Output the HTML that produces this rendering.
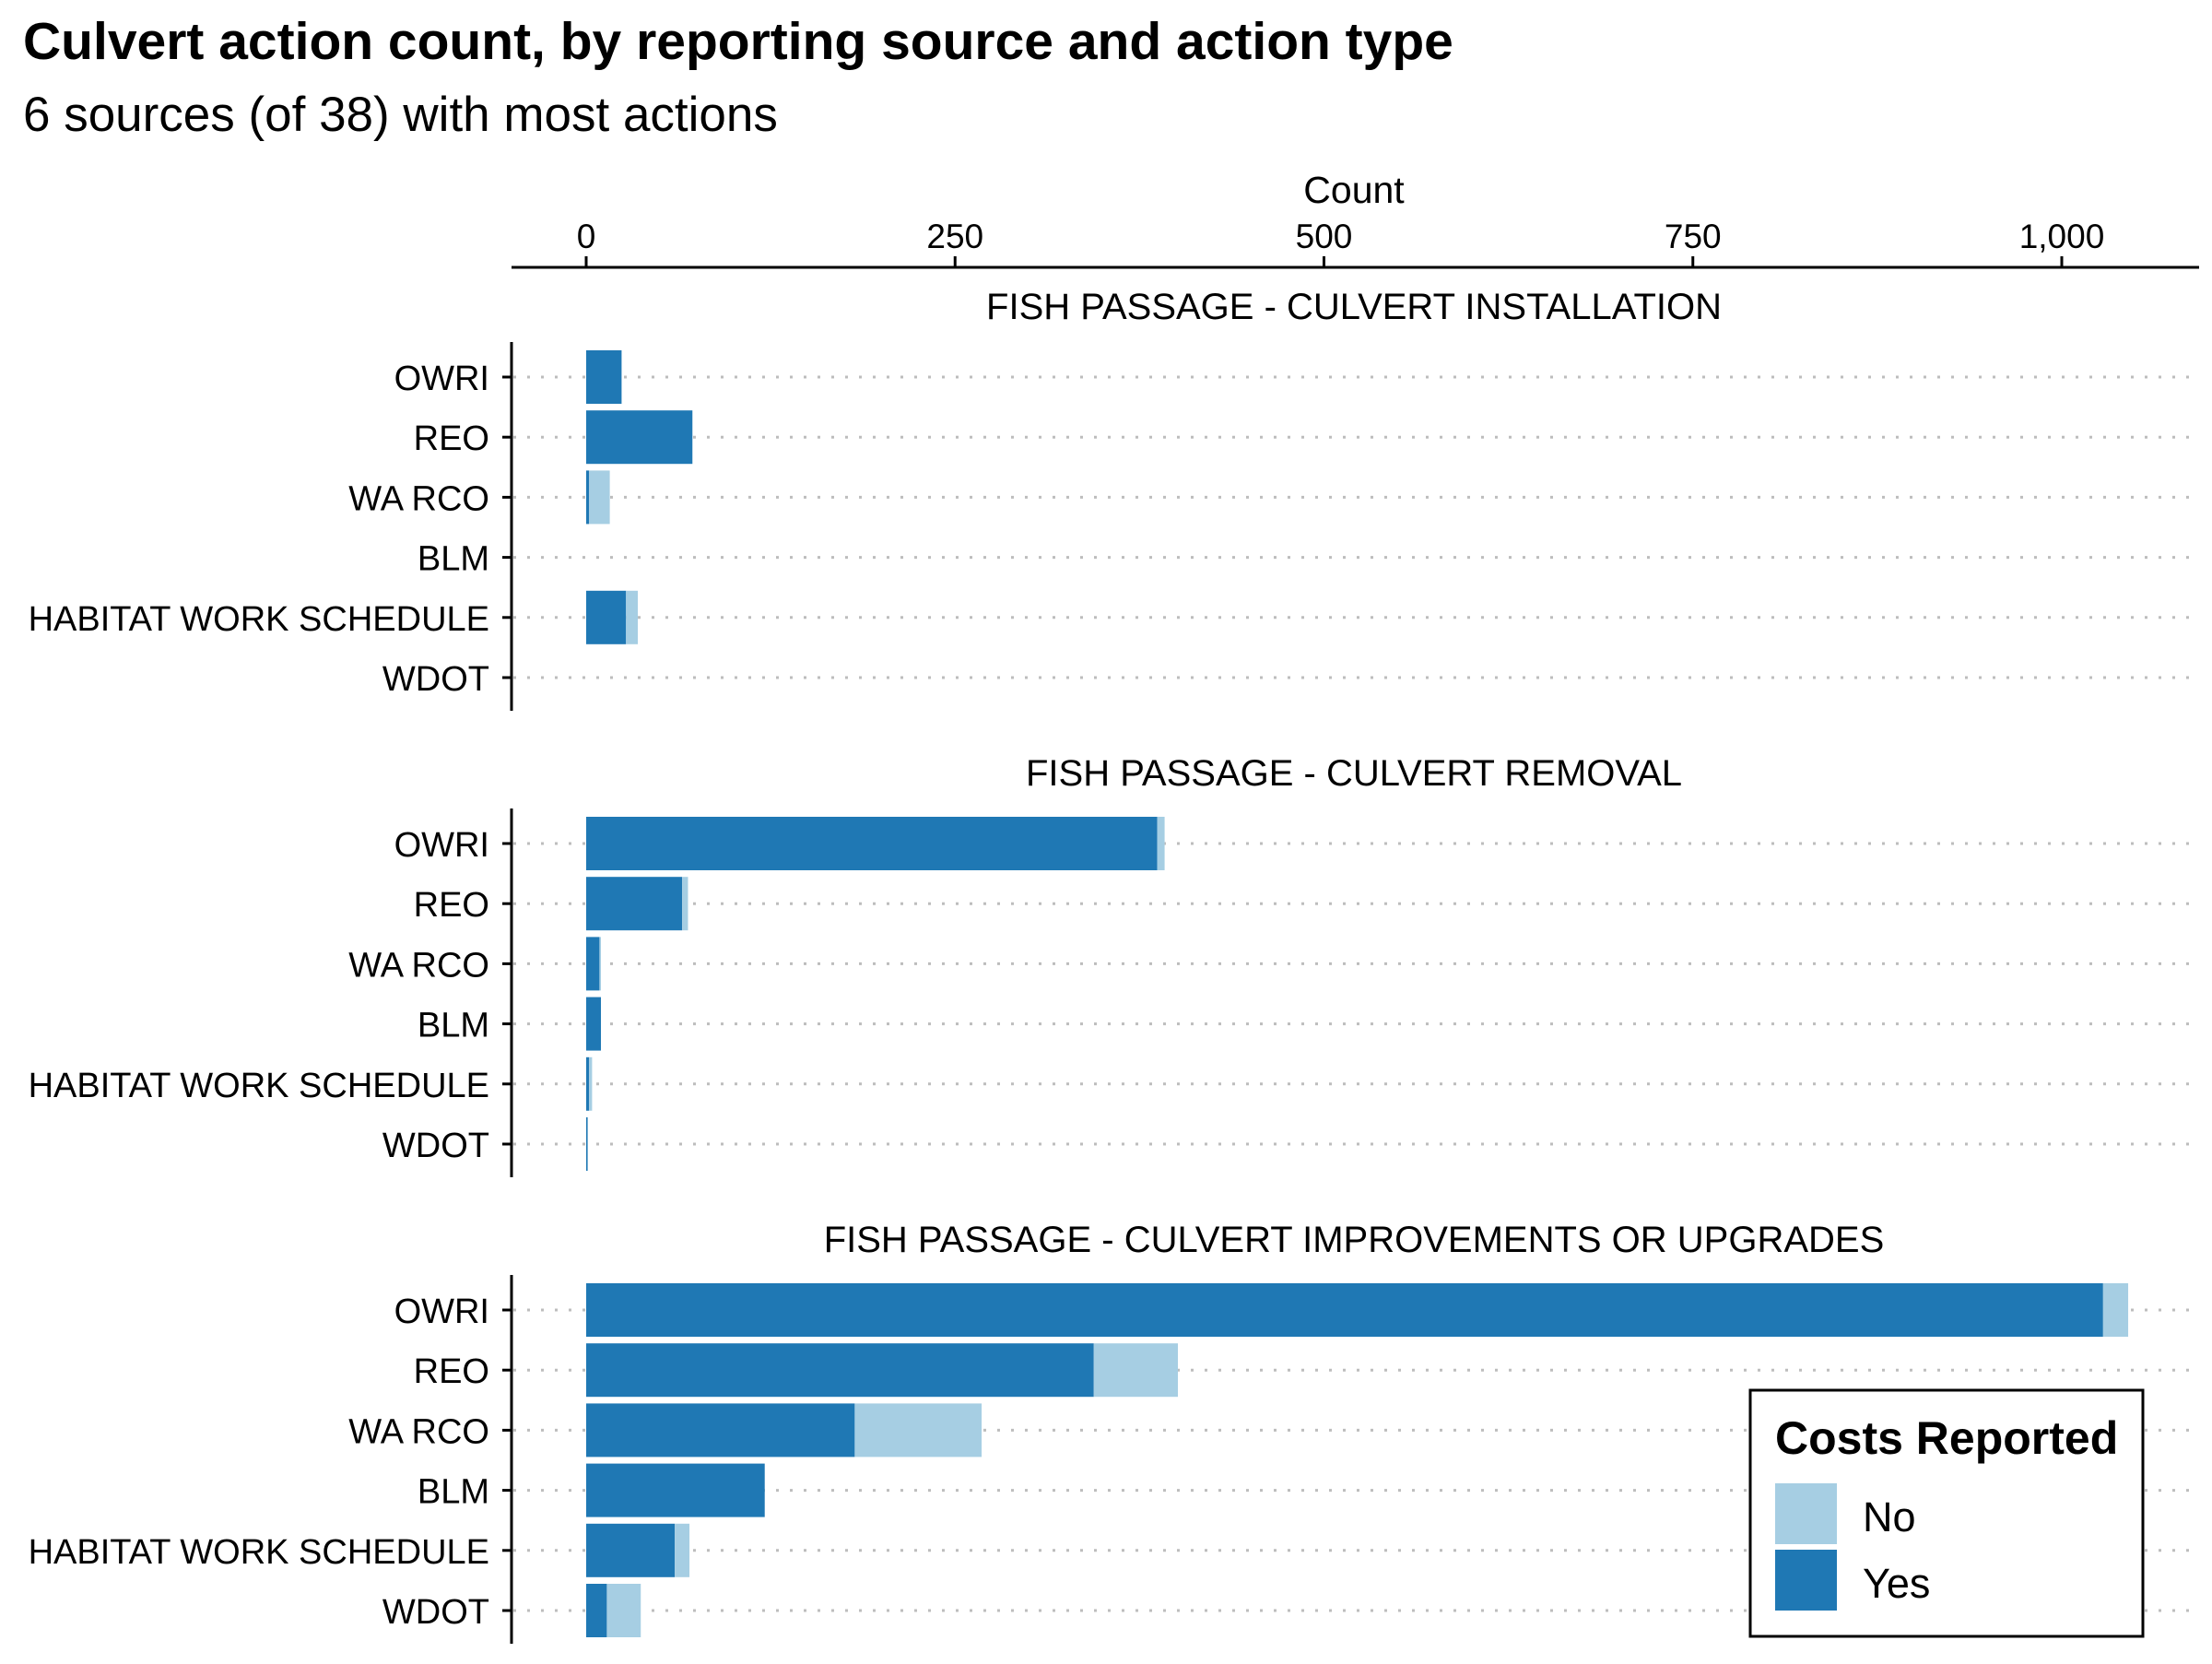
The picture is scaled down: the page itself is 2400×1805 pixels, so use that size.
<!DOCTYPE html>
<html><head><meta charset="utf-8"><style>
html,body{margin:0;padding:0;background:#fff}
svg text{font-family:"Liberation Sans",Arial,sans-serif}
</style></head><body>
<svg id="chart" width="2400" height="1800" viewBox="0 0 2400 1800" xmlns="http://www.w3.org/2000/svg">
<rect width="2400" height="1800" fill="#fff"/>
<text x="25" y="64" font-size="57" font-weight="bold">Culvert action count, by reporting source and action type</text>
<text x="25" y="142" font-size="53">6 sources (of 38) with most actions</text>
<text x="1469" y="220" font-size="41" text-anchor="middle">Count</text>
<g id="xaxis"></g>
<g id="panels"></g>
<g>
<rect x="1899" y="1508" width="426" height="267" fill="#fff" stroke="#000" stroke-width="3"/>
<text x="1926" y="1577" font-size="50" font-weight="bold">Costs Reported</text>
<rect x="1926" y="1609" width="67" height="66" fill="#a6cee3"/>
<text x="2021" y="1661" font-size="45">No</text>
<rect x="1926" y="1681" width="67" height="66" fill="#1f78b4"/>
<text x="2021" y="1733" font-size="45">Yes</text>
</g>
</svg>
<script>
const sources = ["OWRI","REO","WA RCO","BLM","HABITAT WORK SCHEDULE","WDOT"];
const panelTitles = ["FISH PASSAGE - CULVERT INSTALLATION","FISH PASSAGE - CULVERT REMOVAL","FISH PASSAGE - CULVERT IMPROVEMENTS OR UPGRADES"];
const yesInstall = [24,72,2,0,27,0];
const noInstall = [0,0,14,0,8,0];
const yesRemoval = [387,65,9,10,2,1];
const noRemoval = [5,4,1,0,2,0];
const yesUpgrade = [1028,344,182,121,60,14];
const noUpgrade = [17,57,86,0,10,23];
const xTicks = [0,250,500,750,1000];
const xTickLabels = ["0","250","500","750","1,000"];

const NS="http://www.w3.org/2000/svg";
function mk(tag,attrs,parent,text){const e=document.createElementNS(NS,tag);for(const k in attrs)e.setAttribute(k,attrs[k]);if(text!==undefined)e.textContent=text;parent.appendChild(e);return e;}
const x = v => 636 + v*(2237-636)/1000;
const panelTop = [371,877,1383];
const rowY = (p,i) => panelTop[p] + 38 + i*65.2;
const xa=document.getElementById('xaxis');
let l=mk('line',{x1:555,x2:2386,y1:290,y2:290,stroke:'#000','stroke-width':3},xa);

xTicks.forEach((t,i)=>{
  let tk=mk('line',{x1:x(t),x2:x(t),y1:278,y2:290,stroke:'#000','stroke-width':3},xa);
  
  let tl=mk('text',{x:x(t),y:269,'font-size':37,'text-anchor':'middle'},xa,xTickLabels[i]);
  
});
const pg=document.getElementById('panels');
const yesData=[yesInstall,yesRemoval,yesUpgrade], noData=[noInstall,noRemoval,noUpgrade];
panelTitles.forEach((title,p)=>{
  const g=mk('g',{},pg);
  
  let st=mk('text',{x:1469,y:panelTop[p]-25,'font-size':40,'text-anchor':'middle'},g,title);
  
  sources.forEach((s,i)=>{
    const y=rowY(p,i);
    let gl=mk('line',{x1:557,x2:2386,y1:y,y2:y,stroke:'#bdbdbd','stroke-width':3,'stroke-dasharray':'3 12'},g);
    
    const yv=yesData[p][i], nv=noData[p][i];
    if(yv>0){let b=mk('rect',{x:x(0),y:y-29,width:x(yv)-x(0),height:58,fill:'#1f78b4'},g);
      }
    if(nv>0){let b=mk('rect',{x:x(yv),y:y-29,width:x(yv+nv)-x(yv),height:58,fill:'#a6cee3'},g);
      }
    let tk=mk('line',{x1:545,x2:555,y1:y,y2:y,stroke:'#000','stroke-width':3},g);
    
    let lb=mk('text',{x:531,y:y+14,'font-size':38,'text-anchor':'end'},g,s);
    
  });
  let ax=mk('line',{x1:555,x2:555,y1:panelTop[p],y2:panelTop[p]+400,stroke:'#000','stroke-width':3},g);
  
});
</script>
</body></html>
